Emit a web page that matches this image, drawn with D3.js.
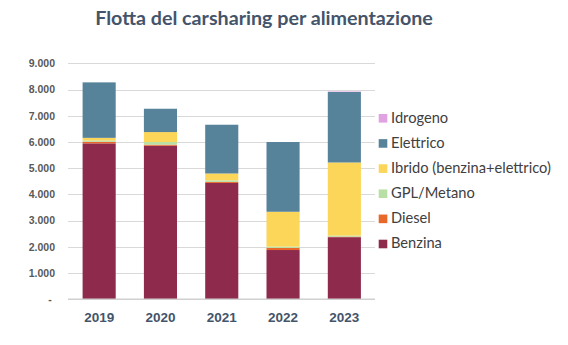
<!DOCTYPE html>
<html><head><meta charset="utf-8">
<script src="https://cdn.jsdelivr.net/npm/d3@7"></script>
<style>html,body{margin:0;padding:0;background:#fff;}svg{display:block;}</style>
</head><body>
<svg id="c" width="568" height="345"></svg>
<script>
const years = ["2019","2020","2021","2022","2023"];
const seriesNames = ["Benzina","Diesel","GPL/Metano","Ibrido (benzina+elettrico)","Elettrico","Idrogeno"];
const benzina  = [5950, 5860, 4440, 1880, 2370];
const diesel   = [60, 40, 40, 80, 20];
const gpl      = [50, 100, 60, 50, 40];
const ibrido   = [100, 380, 260, 1330, 2790];
const elettrico= [2116, 890, 1860, 2660, 2690];
const idrogeno = [0, 0, 0, 0, 20];
const yTicks = [0,1000,2000,3000,4000,5000,6000,7000,8000,9000];
const yTickLabels = ["-","1.000","2.000","3.000","4.000","5.000","6.000","7.000","8.000","9.000"];
const colors = ["#8e2b4d","#e8672a","#b8e0a4","#fbd658","#56829a","#e1a2e1"];

const values = [benzina, diesel, gpl, ibrido, elettrico, idrogeno];
const table = years.map((y,i)=>{const o={year:y}; seriesNames.forEach((s,j)=>o[s]=values[j][i]); return o;});
const stack = d3.stack().keys(seriesNames)(table);

const svg = d3.select("#c");
const x = d3.scaleBand().domain(years).range([68.5, 375]).paddingInner(0.46).paddingOuter(0.23);
const y = d3.scaleLinear().domain([0, 9000]).range([299.3, 63.4]);

// gridlines
svg.append("g").selectAll("line").data(yTicks.filter(d=>d>0)).join("line")
  .attr("x1",68).attr("x2",375).attr("y1",d=>Math.round(y(d))+0.5).attr("y2",d=>Math.round(y(d))+0.5)
  .attr("stroke","#d9d9d9").attr("stroke-width",1);

// y labels
svg.append("g").selectAll("text").data(yTicks).join("text")
  .attr("x",d=>d===0?50:55).attr("y",d=>y(d)+3.8)
  .attr("text-anchor",d=>d===0?"middle":"end")
  .attr("font-family","Liberation Sans, Arial, sans-serif").attr("font-weight","bold")
  .attr("font-size",10.5).attr("fill","#595959")
  .text((d,i)=>yTickLabels[i]);

// bars
svg.append("g").selectAll("g").data(stack).join("g")
  .attr("fill",(d,i)=>colors[i])
  .selectAll("rect").data(d=>d).join("rect")
  .attr("x",d=>x(d.data.year)).attr("width",x.bandwidth())
  .attr("y",d=>y(d[1])).attr("height",d=>Math.max(0,y(d[0])-y(d[1])));

// baseline
svg.append("line").attr("x1",68).attr("x2",375).attr("y1",y(0)).attr("y2",y(0))
  .attr("stroke","#d0d0d0").attr("stroke-width",1.5);

// x labels
svg.append("g").selectAll("text").data(years).join("text")
  .attr("x",d=>x(d)+x.bandwidth()/2).attr("y",322)
  .attr("text-anchor","middle")
  .attr("font-family","Liberation Sans, Arial, sans-serif").attr("font-weight","bold")
  .attr("font-size",13.5).attr("fill","#44546a").text(d=>d);

// title
const title = svg.append("text").attr("x",264).attr("y",25).attr("text-anchor","middle")
  .attr("font-family","Lato, sans-serif").attr("font-weight","bold")
  .attr("font-size",20).attr("fill","#44546a").text("Flotta del carsharing per alimentazione");
const tw = title.node().getComputedTextLength();
title.attr("font-size", 20*338/tw);

// legend
const legendOrder = seriesNames.map((s,i)=>({s,i})).reverse();
const lg = svg.append("g").selectAll("g").data(legendOrder).join("g")
  .attr("transform",(d,k)=>`translate(383,${118.3+k*25.14})`);
lg.append("rect").attr("x",-4.3).attr("y",-4.3).attr("width",8.6).attr("height",8.6).attr("fill",d=>colors[d.i]);
const lt = lg.append("text").attr("x",8).attr("y",4.3)
  .attr("font-family","Lato, sans-serif").attr("font-size",13).attr("fill","#404040").text(d=>d.s);
const ib = lt.filter(d=>d.s.startsWith("Ibrido")).node().getComputedTextLength();
lt.attr("font-size", 13*160/ib);
</script>
</body></html>
